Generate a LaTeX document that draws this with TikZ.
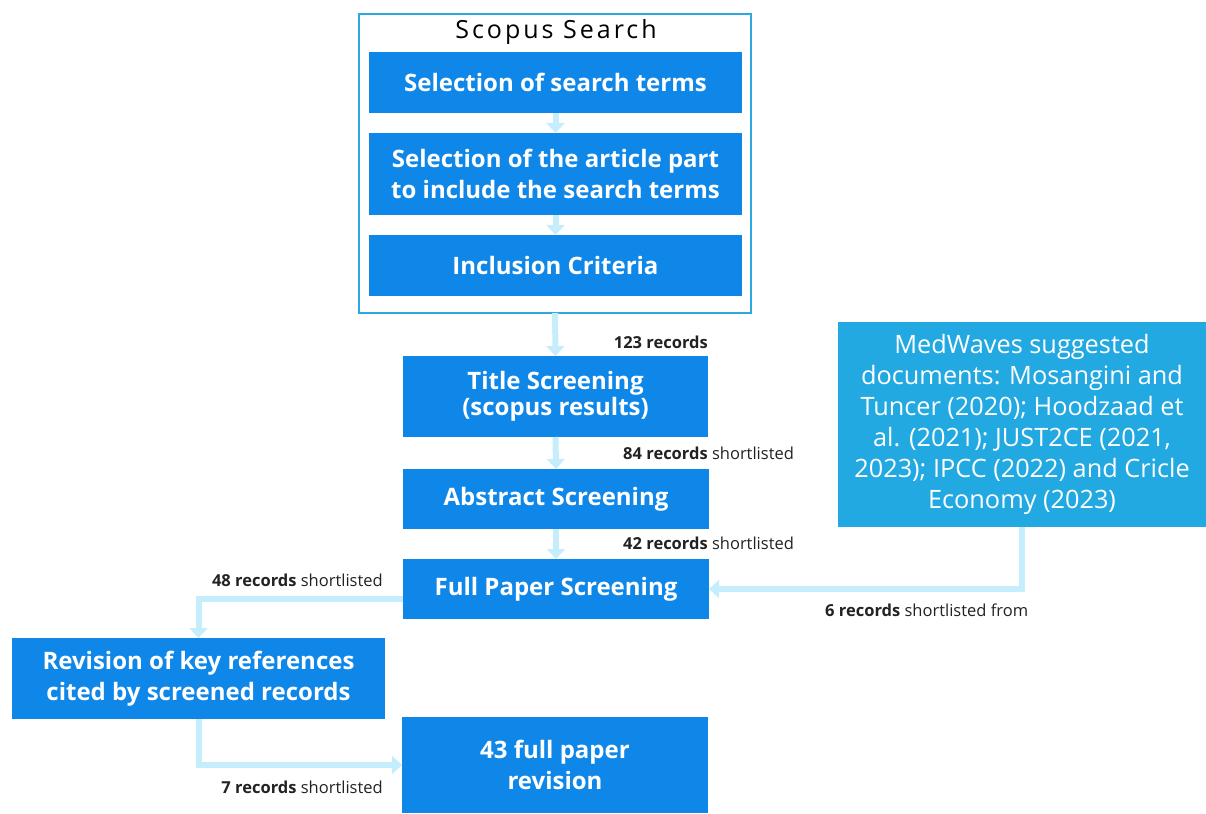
\documentclass[tikz,border=0pt]{standalone}
\usepackage{fontspec}
\setmainfont{Open Sans}
\usetikzlibrary{arrows.meta,positioning,calc}
\definecolor{boxblue}{HTML}{0F87E9}
\definecolor{medblue}{HTML}{22A9E1}
\definecolor{framecol}{HTML}{2BA9DF}
\definecolor{arrowcol}{HTML}{C6EDFC}
\definecolor{labcol}{HTML}{222222}
\begin{document}
\begin{tikzpicture}[x=1pt,y=-1pt,
  bluebox/.style={fill=boxblue,text=white,inner sep=0pt,outer sep=0pt,align=center,
    font=\fontsize{24}{31}\selectfont\bfseries},
  medbox/.style={fill=medblue,text=white,inner sep=0pt,outer sep=0pt,align=center,
    font=\fontsize{25.3}{31}\selectfont},
  flow/.style={draw=arrowcol,line width=6pt,-{Triangle[width=18pt,length=10pt]}},
  lab/.style={inner sep=0pt,text=labcol,font=\fontsize{16.5}{18}\selectfont}
]
\useasboundingbox (0,0) rectangle (1206,813);
% outer frame
\node[draw=framecol,line width=2pt,minimum width=392pt,minimum height=299pt,inner sep=0pt,outer sep=0pt] (outer) at (555,163.5) {};
\node[inner sep=0pt,font=\fontsize{25}{28}\selectfont\addfontfeatures{LetterSpace=12}] (stitle) at (556,32) {Scopus Search};
\node[bluebox,minimum width=373pt,minimum height=61pt] (b1) at (555.5,82.5) {Selection of search terms};
\node[bluebox,minimum width=373pt,minimum height=82pt] (b2) at (555.5,174) {Selection of the article part\\to include the search terms};
\node[bluebox,minimum width=373pt,minimum height=61pt] (b3) at (555.5,265.5) {Inclusion Criteria};
\node[bluebox,minimum width=305pt,minimum height=81pt,font=\fontsize{24}{26}\selectfont\bfseries] (ts) at (555.5,396.5) {Title Screening\\(scopus results)};
\node[bluebox,minimum width=306pt,minimum height=60pt] (as) at (556,499) {Abstract Screening};
\node[bluebox,minimum width=306pt,minimum height=60pt] (fp) at (556,589) {Full Paper Screening};
\node[bluebox,minimum width=373pt,minimum height=81pt] (rev) at (198.5,678.5) {Revision of key references\\cited by screened records};
\node[bluebox,minimum width=306pt,minimum height=96pt] (fin) at (555,765) {43 full paper\\revision};
\node[medbox,minimum width=368pt,minimum height=205pt] (med) at (1022,424.5) {MedWaves suggested\\documents: Mosangini and\\Tuncer (2020); Hoodzaad et\\al. (2021); JUST2CE (2021,\\2023); IPCC (2022) and Cricle\\Economy (2023)};
% arrows
\draw[flow] (b1.south) -- (b2.north);
\draw[flow] (b2.south) -- (b3.north);
\draw[flow] (outer.south) -- (ts.north);
\draw[flow] (ts.south) -- (as.north);
\draw[flow] (as.south) -- (fp.north);
\draw[flow] ([yshift=-10pt]fp.west) -| (rev.north);
\draw[flow] (rev.south) |- (fin.west);
\draw[flow] (med.south) |- (fp.east);
% labels
\node[lab,anchor=east] (l123) at (708,342) {\textbf{123 records}};
\node[lab,anchor=west] (l84) at (623,453) {\textbf{84 records} shortlisted};
\node[lab,anchor=west] (l42) at (623,543) {\textbf{42 records} shortlisted};
\node[lab,anchor=east] (l48) at (383,580) {\textbf{48 records} shortlisted};
\node[lab,anchor=east] (l7) at (383,787) {\textbf{7 records} shortlisted};
\node[lab,anchor=west] (l6) at (825,610) {\textbf{6 records} shortlisted from};
\end{tikzpicture}
\end{document}
